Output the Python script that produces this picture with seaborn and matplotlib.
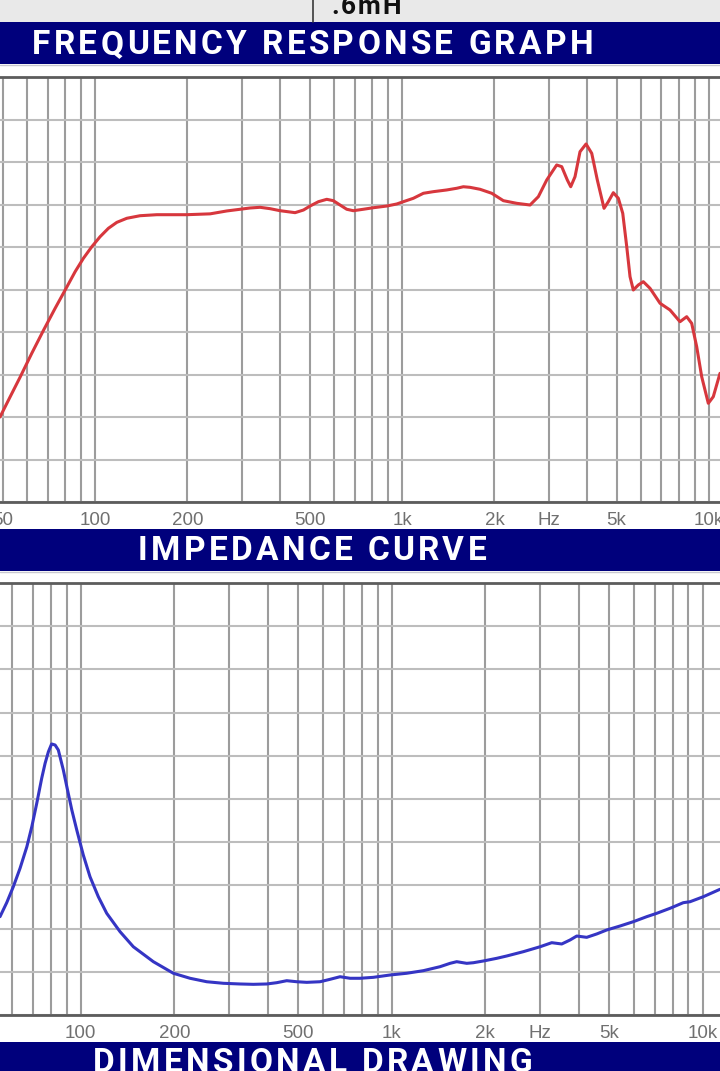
import numpy as np
import pandas as pd
import matplotlib
matplotlib.use("Agg")
import matplotlib.pyplot as plt
import seaborn as sns
from matplotlib.patches import Rectangle
from matplotlib.lines import Line2D
from matplotlib.textpath import TextToPath
from matplotlib.font_manager import FontProperties

# ---------------- data ----------------
spl_freq_hz = [49.0, 52.9, 57.0, 62.2, 67.9, 74.1, 80.9, 86.1, 91.6, 97.6, 103.8,
               110.5, 117.7, 126.9, 140.1, 158.9, 198.9, 237, 268.5,
               296.8, 319.8, 344.8, 371.5, 400.6, 448.3, 477.3, 501.5, 533.9, 568.5,
               597.2, 628.1, 660.4, 693.9, 747.9, 806.3, 891.8, 960.9, 1009.7,
               1088.4, 1173.6, 1264.7, 1398, 1507.8, 1584, 1665,
               1795, 1960, 2138, 2363, 2612, 2780, 2960, 3190, 3313, 3455, 3544,
               3660, 3800, 3976, 4149, 4327, 4550, 4699, 4879, 5066, 5236, 5395,
               5530, 5668, 5884, 6109, 6424, 6926, 7464, 8045, 8459, 8782, 9118,
               9467, 9947, 10327, 10860]
spl_db = [70.0, 72.39, 74.7, 77.5, 80.2, 82.79, 85.3, 87.1, 88.67, 90.04, 91.21,
          92.2, 92.9, 93.38, 93.68, 93.8, 93.8, 93.9, 94.24,
          94.44, 94.59, 94.67, 94.51, 94.27, 94.04, 94.35, 94.82, 95.33, 95.61,
          95.45, 94.94, 94.44, 94.27, 94.44, 94.62, 94.82, 95.06, 95.33,
          95.73, 96.32, 96.51, 96.71, 96.91, 97.09, 97.02,
          96.79, 96.32, 95.45, 95.14, 94.94, 95.92, 97.88, 99.65, 99.45, 97.88, 97.09,
          98.27, 101.21, 102.12, 101.02, 97.88, 94.55, 95.33, 96.39, 95.73, 93.96, 90.04,
          86.51, 84.94, 85.53, 85.92, 85.14, 83.38, 82.59, 81.21, 81.8, 81.02, 78.27,
          74.74, 71.61, 72.39, 75.14]

imp_freq_hz = [55.0, 57.8, 60.7, 63.8, 67.1, 69.6, 72.2, 74.9, 76.8, 78.7, 80.6,
               82.7, 84.7, 87.9, 90.2, 93.6, 97.1, 101.9, 107.1, 113.9, 121.2,
               133.8, 147.6, 171.2, 198.5, 224.6, 254.2, 287.4,
               325.3, 358.9, 396.4, 426.8, 459.6, 494.9, 533.1, 588.2, 633.3, 682.1,
               734.4, 791, 872.7, 987.5, 1117.3, 1263.7, 1429.8, 1540, 1618, 1743,
               1829.8, 1970, 2175.6, 2343, 2650.5, 2999, 3270, 3521, 3744, 3935,
               4236, 4563, 4913, 5422, 5983, 6605, 7114, 7851, 8661, 9103, 10044, 11365]
imp_ohm = [11.38, 13.0, 14.85, 16.98, 19.48, 21.79, 24.5, 27.4, 29.13, 30.47, 31.37,
           31.25, 30.67, 28.36, 26.43, 23.73, 21.41, 18.52, 16.0, 13.69, 11.77,
           9.64, 7.9, 6.17, 4.83, 4.25, 3.85, 3.67,
           3.59, 3.55, 3.59, 3.74, 3.97, 3.85, 3.78, 3.85, 4.13, 4.43,
           4.25, 4.25, 4.36, 4.63, 4.83, 5.13, 5.59, 5.98, 6.17, 5.98,
           6.05, 6.25, 6.56, 6.83, 7.33, 7.9, 8.37, 8.22, 8.68, 9.14,
           8.99, 9.38, 9.84, 10.3, 10.8, 11.38, 11.77, 12.35, 13.0, 13.11, 13.69, 14.55]

spl_tick_values = [50, 100, 200, 500, 1000, 2000, 3000, 5000, 10000]
spl_tick_labels = ["50", "100", "200", "500", "1k", "2k", "Hz", "5k", "10k"]
imp_tick_values = [100, 200, 500, 1000, 2000, 3000, 5000, 10000]
imp_tick_labels = ["100", "200", "500", "1k", "2k", "Hz", "5k", "10k"]

banner_titles = ["FREQUENCY RESPONSE GRAPH", "IMPEDANCE CURVE", "DIMENSIONAL DRAWING"]
header_text = ".6mH"

# ---------------- layout helpers ----------------
W, H = 720, 1071
sns.set_style("white")
plt.rcParams["font.family"] = ["Liberation Sans", "DejaVu Sans"]

fig = plt.figure(figsize=(W / 100, H / 100), dpi=100)
fig.patch.set_facecolor("white")


def fy(y):
    return 1 - y / H


def fx(x):
    return x / W


_ttp = TextToPath()


def spaced_text(x_px, y_px, s, size, spacing_px, color, va="center", weight="bold"):
    """Draw a string character by character with extra letter spacing."""
    prop = FontProperties(family="Roboto", weight=weight, size=size)
    for i, ch in enumerate(s):
        if ch == " ":
            continue
        if i == 0:
            off_pt = 0.0
        else:
            w_all = _ttp.get_text_width_height_descent(s[:i + 1], prop, ismath=False)[0]
            w_ch = _ttp.get_text_width_height_descent(ch, prop, ismath=False)[0]
            off_pt = w_all - w_ch
        xx = x_px + off_pt * 100 / 72 + spacing_px * i
        fig.text(fx(xx), fy(y_px), ch, ha="left", va=va, fontproperties=prop,
                 color=color, zorder=3)


NAVY = "#00007c"

# top gray strip with table cell
fig.add_artist(Rectangle((0, fy(22)), 1, 22 / H, transform=fig.transFigure,
                         facecolor="#e9e9e9", edgecolor="none", zorder=0))
fig.add_artist(Line2D([fx(313), fx(313)], [fy(0), fy(22)], transform=fig.transFigure,
                      color="#3a3a3a", lw=1.2))
spaced_text(331, 13.5, header_text, 19, 2.0, "#111111", va="baseline")

# banners
banners = [(22, 64, 32, 45.5), (529, 571, 138, 551.5), (1042, 1075, 93, 1063)]
for (y0, y1, tx, ty), title in zip(banners, banner_titles):
    fig.add_artist(Rectangle((0, fy(y1)), 1, (y1 - y0) / H, transform=fig.transFigure,
                             facecolor=NAVY, edgecolor="none", zorder=1))
    fig.add_artist(Line2D([0, 1], [fy(y1 + 1), fy(y1 + 1)], transform=fig.transFigure,
                          color="#c8c8d0", lw=1.0))
    spaced_text(tx, ty, title, 24, 3.35, "white")


def minor_grid(lo, hi):
    vals = []
    for dec in [10, 100, 1000, 10000]:
        for k in range(1, 10):
            v = k * dec
            if lo <= v <= hi:
                vals.append(v)
    return vals


def style_axis(ax, xlim, ylim, ticks, labels):
    ax.set_xscale("log")
    ax.set_xlim(*xlim)
    ax.set_ylim(*ylim)
    ax.set_xticks(ticks)
    ax.set_xticklabels(labels)
    ax.set_xticks(minor_grid(xlim[0], xlim[1]), minor=True)
    ax.set_xticklabels([], minor=True)
    ax.set_yticks(np.linspace(ylim[0], ylim[1], 11))
    ax.set_yticklabels([])
    ax.grid(which="both", axis="x", color="#9c9c9c", lw=1.5)
    ax.grid(which="major", axis="y", color="#bdbdbd", lw=1.5)
    ax.set_axisbelow(True)
    ax.tick_params(which="both", length=0)
    ax.tick_params(axis="x", which="major", labelsize=13.5, labelcolor="#707070", pad=7)
    for s in ["left", "right"]:
        ax.spines[s].set_visible(False)
    for s in ["top", "bottom"]:
        ax.spines[s].set_color("#5c5c5c")
        ax.spines[s].set_linewidth(2.0)
    ax.set_xlabel("")
    ax.set_ylabel("")
    ax.set_facecolor("white")


# frequency response
ax1 = fig.add_axes([0, fy(502), 1, (502 - 77) / H])
spl_df = pd.DataFrame({"freq": spl_freq_hz, "spl": spl_db})
sns.lineplot(data=spl_df, x="freq", y="spl", ax=ax1, color="#d7373d", lw=2.2,
             sort=False, estimator=None)
style_axis(ax1, (49.0, 10860), (60, 110), spl_tick_values, spl_tick_labels)

# impedance
ax2 = fig.add_axes([0, fy(1015), 1, (1015 - 583) / H])
imp_df = pd.DataFrame({"freq": imp_freq_hz, "ohm": imp_ohm})
sns.lineplot(data=imp_df, x="freq", y="ohm", ax=ax2, color="#3535c4", lw=2.2,
             sort=False, estimator=None)
style_axis(ax2, (55.0, 11365), (0, 50), imp_tick_values, imp_tick_labels)

fig.savefig("out.png", dpi=100)
